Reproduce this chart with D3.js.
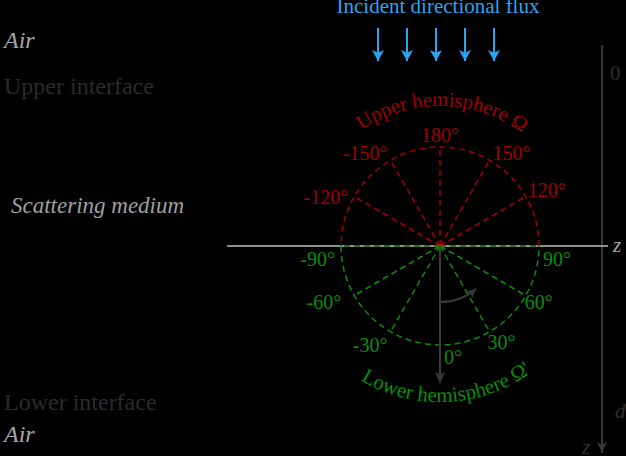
<!DOCTYPE html>
<html>
<head>
<meta charset="utf-8">
<script src="https://cdn.jsdelivr.net/npm/d3@7"></script>
<style>
  html, body { margin: 0; padding: 0; background: #000; }
  svg { display: block; }
  text { font-family: "Liberation Serif", "Times New Roman", serif; }
</style>
</head>
<body>
<script>
// ---------- data ----------
const upperAngles = [-150, -120, -90, 90, 120, 150, 180];
const upperLabels = ["-150°", "-120°", "", "", "120°", "150°", "180°"];
const lowerAngles = [-90, -60, -30, 0, 30, 60, 90];
const lowerLabels = ["-90°", "-60°", "-30°", "0°", "30°", "60°", "90°"];
const fluxArrows = [0, 1, 2, 3, 4];
const layerLabels = ["Air", "Upper interface", "Scattering medium", "Lower interface", "Air"];
const layerItalic = [true, false, true, false, true];
const depthLabels = ["0", "d", "z"];
const titleText = "Incident directional flux";
const upperTitle = "Upper hemisphere Ω";
const lowerTitle = "Lower hemisphere Ω'";
const turnAngle = [0, 40];

// ---------- layout ----------
const W = 626, H = 456;
const cx = 440, cy = 246;
const R = 99;
const red = "#a00000", green = "#0b8c0b", blue = "#2aa6ee";

// label nudges (pixels from spoke end), keyed by angle
const nudge = {
  "180": [0, -5], "150": [3, 0], "120": [2, 0], "-150": [-3, 0], "-120": [-6, 7],
  "90": [4, 20], "60": [-1, 13], "30": [-2, 17], "0": [4, 19],
  "-30": [-3, 20], "-60": [-13, 13], "-90": [-6, 20]
};

const svg = d3.select("body").append("svg").attr("width", W).attr("height", H);
svg.append("rect").attr("width", W).attr("height", H).attr("fill", "#000");

const deg = d3.scaleLinear().domain([0, 360]).range([0, 2 * Math.PI]);
const rad = d3.scaleLinear().domain([0, 1]).range([0, R]);
function pt(theta, r) {
  const a = deg(theta);
  return [cx + r * Math.sin(a), cy + r * Math.cos(a)];
}
const canv = t => Math.PI / 2 - deg(t);

const defs = svg.append("defs");
function marker(id, color, w, h) {
  defs.append("marker").attr("id", id)
    .attr("viewBox", `0 0 ${h} ${w}`).attr("refX", h).attr("refY", w / 2)
    .attr("markerWidth", h).attr("markerHeight", w)
    .attr("markerUnits", "userSpaceOnUse").attr("orient", "auto")
    .append("path").attr("d", `M0,0L${h},${w / 2}L0,${w}L${h * 0.25},${w / 2}Z`).attr("fill", color);
}
marker("mBlue", blue, 12, 11);
marker("mGray", "#3a3a3a", 10, 11);
marker("mAxis", "#383838", 10, 11);
marker("mTurn", "#3a3a3a", 9, 9);

// ---------- title & incident arrows ----------
svg.append("text").attr("x", 438).attr("y", 13).attr("text-anchor", "middle")
  .attr("font-size", 21).attr("fill", blue).text(titleText);
const ax = d3.scaleLinear().domain([0, 4]).range([378, 494]);
svg.selectAll(".flux").data(fluxArrows).join("line").attr("class", "flux")
  .attr("x1", d => ax(d)).attr("x2", d => ax(d)).attr("y1", 28).attr("y2", 61)
  .attr("stroke", blue).attr("stroke-width", 2).attr("marker-end", "url(#mBlue)");

// ---------- left layer labels ----------
const layerY = [48, 94, 213, 410, 442];
const layerX = [4, 4, 11, 4, 4];
const layerSize = [24, 24, 23, 24, 24];
const layerColor = ["#a6a6a6", "#2b2b2b", "#a0a0a0", "#2b2b2b", "#a6a6a6"];
svg.selectAll(".layer").data(layerLabels).join("text").attr("class", "layer")
  .attr("x", (d, i) => layerX[i]).attr("y", (d, i) => layerY[i])
  .attr("font-size", (d, i) => layerSize[i])
  .attr("font-style", (d, i) => layerItalic[i] ? "italic" : "normal")
  .attr("fill", (d, i) => layerColor[i]).text(d => d);

// ---------- right depth axis ----------
svg.append("line").attr("x1", 602).attr("x2", 602).attr("y1", 45).attr("y2", 453)
  .attr("stroke", "#383838").attr("stroke-width", 2).attr("marker-end", "url(#mAxis)");
svg.append("text").attr("x", 610).attr("y", 80).attr("font-size", 21).attr("fill", "#2e2e2e").text(depthLabels[0]);
svg.append("text").attr("x", 615).attr("y", 418).attr("font-size", 21).attr("font-style", "italic").attr("fill", "#2e2e2e").text(depthLabels[1]);
svg.append("text").attr("x", 582).attr("y", 454).attr("font-size", 21).attr("font-style", "italic").attr("fill", "#2e2e2e").text(depthLabels[2]);

// ---------- horizontal axis ----------
svg.append("line").attr("x1", 227).attr("x2", 608).attr("y1", cy).attr("y2", cy)
  .attr("stroke", "#8f8f8f").attr("stroke-width", 2);
svg.append("text").attr("x", 613).attr("y", 252).attr("font-size", 21).attr("font-style", "italic")
  .attr("fill", "#a6a6a6").text("z");

// ---------- hemispheres ----------
const dash = "6,4";
svg.selectAll(".uspoke").data(upperAngles).join("line").attr("class", "uspoke")
  .attr("x1", cx).attr("y1", cy)
  .attr("x2", d => pt(d, rad(1))[0]).attr("y2", d => pt(d, rad(1))[1])
  .attr("stroke", red).attr("stroke-width", 1.5).attr("stroke-dasharray", dash);
const up = d3.path(); up.arc(cx, cy, rad(1), canv(90), canv(270), true);
svg.append("path").attr("d", up.toString()).attr("fill", "none")
  .attr("stroke", red).attr("stroke-width", 1.5).attr("stroke-dasharray", dash);

svg.selectAll(".lspoke").data(lowerAngles.filter(d => d !== 0)).join("line").attr("class", "lspoke")
  .attr("x1", cx).attr("y1", cy)
  .attr("x2", d => pt(d, rad(1))[0]).attr("y2", d => pt(d, rad(1))[1])
  .attr("stroke", green).attr("stroke-width", 1.5).attr("stroke-dasharray", dash);
const lp = d3.path(); lp.arc(cx, cy, rad(1), canv(-90), canv(90), true);
svg.append("path").attr("d", lp.toString()).attr("fill", "none")
  .attr("stroke", green).attr("stroke-width", 1.5).attr("stroke-dasharray", dash);

// direction arrow and rotation arc
svg.append("line").attr("x1", cx).attr("y1", cy).attr("x2", cx).attr("y2", 383)
  .attr("stroke", "#3a3a3a").attr("stroke-width", 2).attr("marker-end", "url(#mGray)");
const tp = d3.path(); tp.arc(cx, cy, 56, canv(turnAngle[0]), canv(turnAngle[1]), true);
svg.append("path").attr("d", tp.toString()).attr("fill", "none")
  .attr("stroke", "#3a3a3a").attr("stroke-width", 2).attr("marker-end", "url(#mTurn)");

// angle labels
function placeLabel(sel, angles, labels, color) {
  sel.selectAll("text").data(angles.map((a, i) => ({ a, t: labels[i] })).filter(d => d.t))
    .join("text")
    .attr("font-size", 20).attr("fill", color)
    .attr("text-anchor", d => {
      const s = Math.sin(deg(d.a));
      if (Math.abs(s) < 0.1) return d.a === 180 ? "middle" : "start";
      return s > 0 ? "start" : "end";
    })
    .attr("x", d => pt(d.a, rad(1))[0] + nudge[d.a][0])
    .attr("y", d => pt(d.a, rad(1))[1] + nudge[d.a][1])
    .text(d => d.t);
}
placeLabel(svg.append("g"), upperAngles, upperLabels, red);
placeLabel(svg.append("g"), lowerAngles, lowerLabels, green);

// curved hemisphere titles
const upArc = d3.path(); upArc.arc(cx, cy, 140, Math.PI, 2 * Math.PI, false);
defs.append("path").attr("id", "upTitlePath").attr("d", upArc.toString());
svg.append("text").attr("font-size", 20.5).attr("fill", red)
  .append("textPath").attr("href", "#upTitlePath").attr("startOffset", "50.5%")
  .attr("text-anchor", "middle").text(upperTitle);

const loArc = d3.path(); loArc.arc(cx, cy, 156, Math.PI, 0, true);
defs.append("path").attr("id", "loTitlePath").attr("d", loArc.toString());
svg.append("text").attr("font-size", 21).attr("fill", green)
  .append("textPath").attr("href", "#loTitlePath").attr("startOffset", "51.5%")
  .attr("text-anchor", "middle").text(lowerTitle);
</script>
</body>
</html>
